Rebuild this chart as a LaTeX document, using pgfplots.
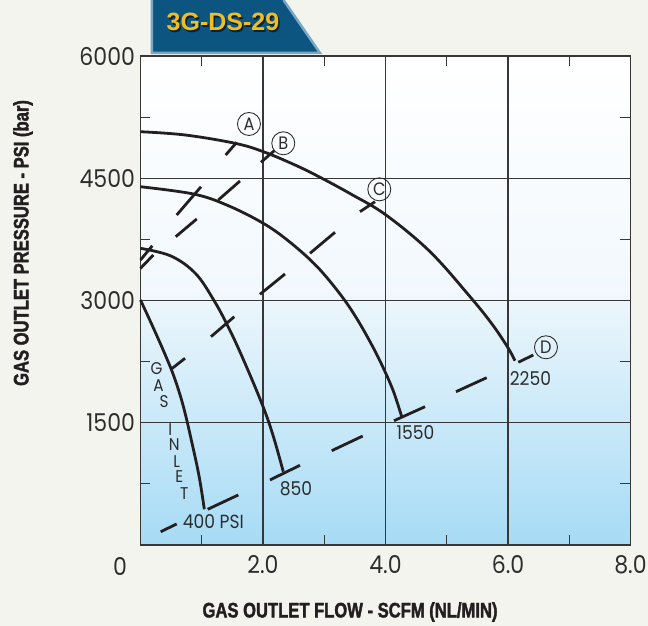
\documentclass[border=0pt]{standalone}
\usepackage{fontspec}
\usepackage{pgfplots}
\pgfplotsset{compat=1.18}
\newfontfamily\condfont[FakeStretch=0.79, BoldFeatures={FakeBold=1.8}]{Liberation Sans}
\newfontfamily\titlefont{Liberation Sans}
\newfontfamily\adv[FakeStretch=0.9]{Poppins}
\definecolor{pagebg}{RGB}{244,244,239}
\definecolor{skytop}{RGB}{236,246,252}
\definecolor{skybot}{RGB}{166,219,245}
\definecolor{skyfaint}{RGB}{241,248,253}
\definecolor{gridc}{RGB}{55,55,55}
\definecolor{ink}{RGB}{35,31,32}
\definecolor{labc}{RGB}{45,45,45}
\definecolor{tabblue}{RGB}{12,85,128}
\definecolor{tabedge}{RGB}{120,168,195}
\definecolor{titleyellow}{RGB}{242,190,30}
\tikzset{
  lab/.style={font=\adv\fontsize{19}{19}\selectfont, text=labc, inner sep=0pt},
  vlab/.style={font=\adv\fontsize{17}{17}\selectfont, text=labc, inner sep=0pt},
  circ/.style={circle, draw=labc, line width=0.9pt, minimum size=23pt, inner sep=0pt,
    font=\adv\fontsize{18}{18}\selectfont, text=labc},
}

\begin{document}
\begin{tikzpicture}
% page and plot area backgrounds
\fill[pagebg] (-140.5pt,-81pt) rectangle (507.5pt,545pt);
\fill[top color=white, bottom color=skyfaint] (0pt,244.5pt) rectangle (490pt,489pt);
\fill[top color=skytop, bottom color=skybot] (0pt,0pt) rectangle (490pt,244.5pt);
% title tab
\fill[tabblue] (11.5pt,545pt) -- (11.5pt,492pt) -- (179.5pt,492pt) -- (143pt,545pt) -- cycle;
\draw[tabedge, line width=2.5pt, line join=miter] (11.5pt,545pt) -- (11.5pt,492pt) -- (179.5pt,492pt) -- (143pt,545pt);
\node[font=\titlefont\bfseries\fontsize{25}{25}\selectfont, text=black, opacity=0.6] at (84pt,521.5pt) {3G-DS-29};
\node[font=\titlefont\bfseries\fontsize{25}{25}\selectfont, text=titleyellow] at (82.5pt,523pt) {3G-DS-29};

\begin{axis}[
  at={(0pt,0pt)}, anchor=south west, scale only axis,
  width=490pt, height=489pt,
  xmin=0, xmax=8, ymin=0, ymax=6000,
  scaled ticks=false,
  xtick={2,4,6,8}, xticklabels={2.0,4.0,6.0,8.0},
  ytick={1500,3000,4500,6000}, yticklabels={1500,3000,4500,6000},
  minor xtick={1,3,5,7}, minor ytick={750,2250,3750,5250},
  major tick length=0pt, minor tick length=10pt, tick align=inside,
  grid=major, major grid style={line width=1.2pt, color=gridc},
  minor grid style={draw=none},
  axis line style={line width=1.5pt, color=gridc},
  minor tick style={line width=1.2pt, color=gridc},
  tick label style={font=\adv\fontsize{24.5}{24.5}\selectfont, text=labc},
  xticklabel style={yshift=-7pt},
  yticklabel style={xshift=-2pt},
  /pgf/number format/assume math mode=true,
  xlabel={GAS OUTLET FLOW - SCFM (NL/MIN)},
  ylabel={GAS OUTLET PRESSURE - PSI (bar)},
  label style={font=\condfont\bfseries\fontsize{21}{21}\selectfont, text=ink},
  xlabel style={at={(axis description cs:0.4276,-0.137)}, anchor=center},
  ylabel style={at={(axis description cs:-0.2398,0.6176)}, anchor=center},
  unbounded coords=jump,
  clip=false,
  dashl/.style={color=ink, line width=2.8pt, line cap=butt, no marks},
]
% curves, one for each inlet pressure
\addplot[color=ink, line width=2.8pt, no marks, smooth, tension=0.6] coordinates {
  (0,5071) (0.727,5031) (1.543,4929) (2.005,4826) (2.522,4663) (2.931,4512)
  (3.45,4300) (4.008,4049) (4.727,3599) (5.380,3047) (5.75,2700) (6.005,2414) (6.114,2261)};
\addplot[color=ink, line width=2.8pt, no marks, smooth, tension=0.6] coordinates {
  (0,4396) (0.862,4307) (1.407,4172) (2.005,3947) (2.441,3715) (2.877,3420)
  (3.257,3080) (3.53,2780) (3.801,2420) (3.992,2127) (4.137,1870) (4.265,1574)};
\addplot[color=ink, line width=2.8pt, no marks, smooth, tension=0.6] coordinates {
  (0,3640) (0.5,3545) (0.9,3330) (1.2,3000) (1.45,2650) (1.7,2240) (2.0,1700)
  (2.17,1330) (2.331,900)};
\addplot[color=ink, line width=2.8pt, no marks, smooth, tension=0.6] coordinates {
  (0,3006) (0.2,2680) (0.4,2340) (0.55,2060) (0.7,1700) (0.85,1220) (0.96,830)
  (1.042,438)};

% dashed lines A, B, C, D
\addplot[dashl] coordinates {(0,3497) (0.193,3672) (nan,nan)
  (0.591,4049) (0.988,4396) (nan,nan) (1.391,4785) (1.571,4941)};
\addplot[dashl] coordinates {(0,3395) (0.209,3558) (nan,nan)
  (0.575,3783) (0.918,4000) (nan,nan) (1.270,4233) (1.624,4466) (nan,nan)
  (1.967,4696) (2.184,4838)};
\addplot[dashl] coordinates {(0.498,2156) (0.727,2291) (nan,nan)
  (1.151,2556) (1.531,2801) (nan,nan) (1.951,3076) (2.359,3325) (nan,nan)
  (2.767,3579) (3.176,3837) (nan,nan) (3.584,4090) (3.829,4212)};
\addplot[dashl] coordinates {(0.330,163) (0.591,258) (nan,nan)
  (1.097,438) (1.597,614) (nan,nan) (2.114,798) (2.604,978) (nan,nan)
  (3.122,1157) (3.628,1337) (nan,nan) (4.139,1525) (4.645,1697) (nan,nan)
  (5.151,1881) (5.652,2053) (nan,nan) (6.168,2242) (6.413,2331)};

% labels
\node[circ] at (axis cs:1.771,5166) {A};
\node[circ] at (axis cs:2.331,4929) {B};
\node[circ] at (axis cs:3.899,4364) {C};
\node[circ] at (axis cs:6.620,2426) {D};
\node[lab] at (axis cs:6.367,2037) {2250};
\node[lab] at (axis cs:4.490,1374) {1550};
\node[lab] at (axis cs:2.539,696) {850};
\node[lab] at (axis cs:1.189,282) {400 PSI};
\node[vlab] at (axis cs:0.264,2165) {G};
\node[vlab] at (axis cs:0.294,1960) {A};
\node[vlab] at (axis cs:0.384,1765) {S};
\node[vlab] at (axis cs:0.487,1420) {I};
\node[vlab] at (axis cs:0.552,1230) {N};
\node[vlab] at (axis cs:0.591,1025) {L};
\node[vlab] at (axis cs:0.633,835) {E};
\node[vlab] at (axis cs:0.715,630) {T};
\node[font=\adv\fontsize{24.5}{24.5}\selectfont, text=labc] at (axis cs:0,0) [xshift=-20.5pt, yshift=-22pt] {0};
\end{axis}
\pgfresetboundingbox
\path[use as bounding box] (-140.5pt,-81pt) rectangle (507.5pt,545pt);
\end{tikzpicture}
\end{document}
